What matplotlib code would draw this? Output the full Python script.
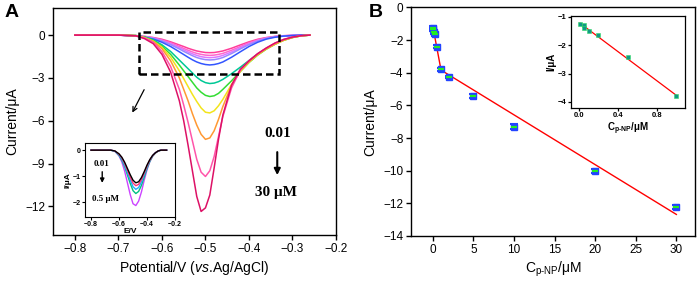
import matplotlib
matplotlib.use("Agg")
import matplotlib.pyplot as plt
from matplotlib.patches import Rectangle

plt.rcParams['font.family'] = ['Liberation Sans', 'DejaVu Sans']
plt.rcParams['mathtext.fontset'] = 'custom'
plt.rcParams['mathtext.rm'] = 'Liberation Sans'
plt.rcParams['mathtext.it'] = 'Liberation Sans:italic'
plt.rcParams['mathtext.bf'] = 'Liberation Sans:bold'

# ---- panel A: DPV curves (potential grid shared by all curves) ----
potential = [-0.80, -0.70, -0.66, -0.64, -0.62, -0.60, -0.58, -0.56, -0.55, -0.54,
             -0.53, -0.52, -0.51, -0.50, -0.49, -0.48, -0.47, -0.46, -0.44, -0.42,
             -0.40, -0.38, -0.36, -0.34, -0.32, -0.30, -0.28, -0.26]
conc_labels = ["0.01", "0.05", "0.1", "0.2", "0.5", "1", "2", "5", "10", "20", "30"]
cur_001 = [0, 0, -0.04, -0.09, -0.17, -0.29, -0.47, -0.69, -0.80, -0.92, -1.02, -1.11, -1.17, -1.22,
           -1.23, -1.22, -1.17, -1.11, -0.92, -0.69, -0.47, -0.29, -0.17, -0.09, -0.04, -0.02, 0, 0]
cur_005 = [0, 0, -0.05, -0.10, -0.19, -0.34, -0.54, -0.80, -0.93, -1.06, -1.18, -1.28, -1.35, -1.40,
           -1.42, -1.40, -1.35, -1.28, -1.06, -0.80, -0.54, -0.34, -0.19, -0.10, -0.05, -0.02, 0, 0]
cur_01 = [0, 0, -0.05, -0.11, -0.21, -0.38, -0.61, -0.88, -1.03, -1.18, -1.31, -1.42, -1.51, -1.56,
          -1.58, -1.56, -1.51, -1.42, -1.18, -0.88, -0.61, -0.38, -0.21, -0.11, -0.05, -0.02, 0, 0]
cur_02 = [0, 0, -0.06, -0.12, -0.23, -0.42, -0.67, -0.97, -1.14, -1.29, -1.44, -1.57, -1.66, -1.72,
          -1.74, -1.72, -1.66, -1.57, -1.29, -0.97, -0.67, -0.42, -0.23, -0.12, -0.06, -0.02, 0, 0]
cur_05 = [0, 0, -0.07, -0.15, -0.28, -0.50, -0.80, -1.17, -1.36, -1.55, -1.73, -1.88, -1.99, -2.06,
          -2.09, -2.06, -1.99, -1.88, -1.55, -1.17, -0.80, -0.50, -0.28, -0.15, -0.07, -0.03, 0, 0]
cur_1 = [0, 0, -0.03, -0.13, -0.33, -0.68, -1.15, -1.75, -2.05, -2.35, -2.65, -2.95, -3.18, -3.33,
         -3.39, -3.36, -3.26, -3.10, -2.70, -2.25, -1.78, -1.32, -0.93, -0.60, -0.34, -0.16, -0.05, 0]
cur_2 = [0, 0, -0.03, -0.15, -0.38, -0.78, -1.35, -2.10, -2.50, -2.90, -3.30, -3.70, -4.00, -4.22,
         -4.30, -4.25, -4.08, -3.80, -3.20, -2.55, -1.92, -1.40, -0.98, -0.64, -0.36, -0.17, -0.05, 0]
cur_5 = [0, 0, -0.04, -0.17, -0.42, -0.85, -1.55, -2.50, -3.05, -3.60, -4.15, -4.65, -5.10, -5.40,
         -5.45, -5.30, -4.95, -4.50, -3.45, -2.55, -1.90, -1.38, -0.97, -0.64, -0.36, -0.17, -0.05, 0]
cur_10 = [0, 0, -0.04, -0.18, -0.45, -0.95, -1.80, -3.00, -3.80, -4.60, -5.50, -6.30, -6.95, -7.30,
          -7.20, -6.70, -5.90, -5.00, -3.50, -2.50, -1.85, -1.35, -0.95, -0.62, -0.35, -0.16, -0.05, 0]
cur_20 = [0, 0, -0.04, -0.20, -0.50, -1.15, -2.20, -3.80, -4.90, -6.10, -7.40, -8.70, -9.60, -9.90,
          -9.50, -8.50, -7.10, -5.70, -3.70, -2.45, -1.80, -1.30, -0.90, -0.56, -0.30, -0.14, -0.04, 0]
cur_30 = [0, 0, -0.05, -0.25, -0.60, -1.35, -2.60, -4.60, -6.00, -7.70, -9.50, -11.30, -12.35, -12.10,
          -11.20, -9.30, -7.30, -5.60, -3.50, -2.40, -1.80, -1.30, -0.90, -0.55, -0.30, -0.14, -0.04, 0]
curves_a = [cur_001, cur_005, cur_01, cur_02, cur_05, cur_1, cur_2, cur_5, cur_10, cur_20, cur_30]
colors_a = ['#ff3d9a', '#ff66cc', '#dd77ff', '#9988ff', '#3355ff', '#00c896',
            '#33dd33', '#f2e41c', '#ff9933', '#ff55aa', '#dd1166']

# ---- inset of panel A ----
potential_in = [-0.80, -0.66, -0.63, -0.60, -0.58, -0.56, -0.54, -0.52, -0.50, -0.48,
                -0.46, -0.44, -0.42, -0.40, -0.38, -0.36, -0.34, -0.32, -0.30, -0.26]
in_001 = [0, 0, -0.03, -0.14, -0.27, -0.46, -0.70, -0.94, -1.15, -1.25,
          -1.21, -1.05, -0.82, -0.57, -0.36, -0.20, -0.10, -0.03, 0, 0]
in_005 = [0, 0, -0.03, -0.16, -0.30, -0.51, -0.77, -1.03, -1.26, -1.36,
          -1.31, -1.13, -0.88, -0.61, -0.38, -0.21, -0.10, -0.03, 0, 0]
in_01 = [0, 0, -0.04, -0.18, -0.34, -0.57, -0.86, -1.14, -1.40, -1.50,
         -1.43, -1.22, -0.94, -0.64, -0.39, -0.21, -0.10, -0.03, 0, 0]
in_02 = [0, 0, -0.04, -0.20, -0.38, -0.63, -0.95, -1.27, -1.55, -1.66,
         -1.58, -1.35, -1.03, -0.70, -0.43, -0.23, -0.11, -0.03, 0, 0]
in_05 = [0, 0, -0.04, -0.22, -0.45, -0.80, -1.25, -1.70, -2.05, -2.12,
         -1.95, -1.60, -1.15, -0.75, -0.44, -0.23, -0.10, -0.03, 0, 0]
curves_in = [in_05, in_02, in_01, in_005, in_001]
colors_in = ['#cc44ff', '#00c080', '#22aaff', '#ff3377', '#000000']

# ---- panel B: calibration ----
conc_b = [0.01, 0.05, 0.1, 0.2, 0.5, 1, 2, 5, 10, 20, 30]
peak_b = [-1.25, -1.35, -1.5, -1.65, -2.4, -3.8, -4.27, -5.4, -7.3, -10.0, -12.2]
err_b = [0.1, 0.1, 0.1, 0.1, 0.08, 0.1, 0.08, 0.12, 0.15, 0.12, 0.12]
fit_low_x = [0.0, 1.0]
fit_low_y = [-1.19, -3.84]
fit_high_x = [1.0, 30.0]
fit_high_y = [-3.84, -12.68]
conc_in_b = [0.01, 0.05, 0.05, 0.1, 0.2, 0.5, 1.0]
peak_in_b = [-1.25, -1.3, -1.38, -1.5, -1.65, -2.4, -3.8]
fit_in_x = [0.01, 1.0]
fit_in_y = [-1.22, -3.77]

fig = plt.figure(figsize=(6.99, 2.85), dpi=100)

def style(ax, size=8.5, lw=1.0, tl=3.5):
    for s in ax.spines.values():
        s.set_linewidth(lw)
    ax.tick_params(direction='out', length=tl, width=lw, labelsize=size,
                   top=False, right=False, pad=2)

# panel A
axA = fig.add_axes([0.0754, 0.1754, 0.4053, 0.7966])
for y, c in zip(curves_a, colors_a):
    axA.plot(potential, y, color=c, lw=1.1)
axA.set_xlim(-0.851, -0.2)
axA.set_ylim(-14, 1.9)
axA.set_xticks([-0.8, -0.7, -0.6, -0.5, -0.4, -0.3, -0.2])
axA.set_yticks([0, -3, -6, -9, -12])
style(axA)
axA.set_xlabel(r'Potential/V ($\it{vs}$.Ag/AgCl)', fontsize=10, labelpad=3)
axA.set_ylabel('Current/μA', fontsize=10, labelpad=4)
axA.add_patch(Rectangle((-0.652, -2.74), 0.32, 2.95, fill=False, ec='black',
                        lw=1.8, ls=(0, (3, 1.6)), zorder=5))
axA.annotate('', xy=(-0.671, -5.6), xytext=(-0.638, -3.65),
             arrowprops=dict(arrowstyle='->', color='black', lw=0.9, mutation_scale=8))
axA.text(-0.335, -6.9, '0.01', family='Liberation Serif', fontweight='bold',
         fontsize=11, ha='center', va='center')
axA.text(-0.338, -11.0, '30 μM', family='Liberation Serif', fontweight='bold',
         fontsize=11, ha='center', va='center')
axA.annotate('', xy=(-0.335, -10.0), xytext=(-0.335, -8.0),
             arrowprops=dict(arrowstyle='-|>', color='black', lw=1.5, mutation_scale=9))
fig.text(0.006, 0.955, 'A', fontsize=14, fontweight='bold', va='center')

# inset A
axI = fig.add_axes([0.1216, 0.2375, 0.1288, 0.2595])
for y, c in zip(curves_in, colors_in):
    axI.plot(potential_in, y, color=c, lw=1.0)
axI.set_xlim(-0.843, -0.2)
axI.set_ylim(-2.57, 0.26)
axI.set_xticks([-0.8, -0.6, -0.4, -0.2])
axI.set_yticks([0, -1, -2])
style(axI, size=5, lw=0.8, tl=2)
for t in axI.get_xticklabels() + axI.get_yticklabels():
    t.set_fontweight('bold')
axI.tick_params(pad=1)
axI.set_xlabel('E/V', fontsize=6, fontweight='bold', labelpad=0)
axI.set_ylabel('I/μA', fontsize=6, fontweight='bold', labelpad=1)
axI.text(-0.724, -0.53, '0.01', family='Liberation Serif', fontweight='bold',
         fontsize=6.5, ha='center', va='center')
axI.text(-0.70, -1.87, '0.5 μM', family='Liberation Serif', fontweight='bold',
         fontsize=6.5, ha='center', va='center')
axI.annotate('', xy=(-0.72, -1.36), xytext=(-0.72, -0.72),
             arrowprops=dict(arrowstyle='-|>', color='black', lw=1.0, mutation_scale=6))

# panel B
axB = fig.add_axes([0.588, 0.172, 0.4063, 0.802])
axB.plot(fit_low_x, fit_low_y, color='red', lw=1.0, zorder=2)
axB.plot(fit_high_x, fit_high_y, color='red', lw=1.0, zorder=2)
axB.errorbar(conc_b, peak_b, yerr=err_b, fmt='s', ms=4.5, color='#2244ff',
             ecolor='#2244ff', elinewidth=1.5, capsize=3, capthick=1.5, zorder=3)
axB.plot(conc_b, peak_b, ls='none', marker='_', ms=5, mew=1.6, color='#22ee22', zorder=4)
axB.set_xlim(-2.7, 32.3)
axB.set_ylim(-14, 0)
axB.set_xticks([0, 5, 10, 15, 20, 25, 30])
axB.set_yticks([0, -2, -4, -6, -8, -10, -12, -14])
style(axB)
axB.set_xlabel(r'C$_{\mathrm{p‑NP}}$/μM', fontsize=10, labelpad=3)
axB.set_ylabel('Current/μA', fontsize=10, labelpad=4)
fig.text(0.527, 0.955, 'B', fontsize=14, fontweight='bold', va='center')

# inset B
axJ = fig.add_axes([0.8169, 0.62, 0.1631, 0.3256])
axJ.plot(fit_in_x, fit_in_y, color='red', lw=0.9)
axJ.plot(conc_in_b, peak_in_b, ls='none', marker='s', ms=2.2, mfc='#119988',
         mec='#33dd66', mew=0.4)
axJ.set_xlim(-0.082, 1.09)
axJ.set_ylim(-4.23, -0.95)
axJ.set_xticks([0.0, 0.4, 0.8])
axJ.set_yticks([-1, -2, -3, -4])
style(axJ, size=5.5, lw=0.9, tl=2)
for t in axJ.get_xticklabels() + axJ.get_yticklabels():
    t.set_fontweight('bold')
axJ.tick_params(pad=1)
axJ.set_xlabel(r'C$_{\mathbf{p‑NP}}$/μM', fontsize=7, fontweight='bold', labelpad=0.5)
axJ.set_ylabel('I/μA', fontsize=7, fontweight='bold', labelpad=1)

fig.savefig('out.png', dpi=100)
